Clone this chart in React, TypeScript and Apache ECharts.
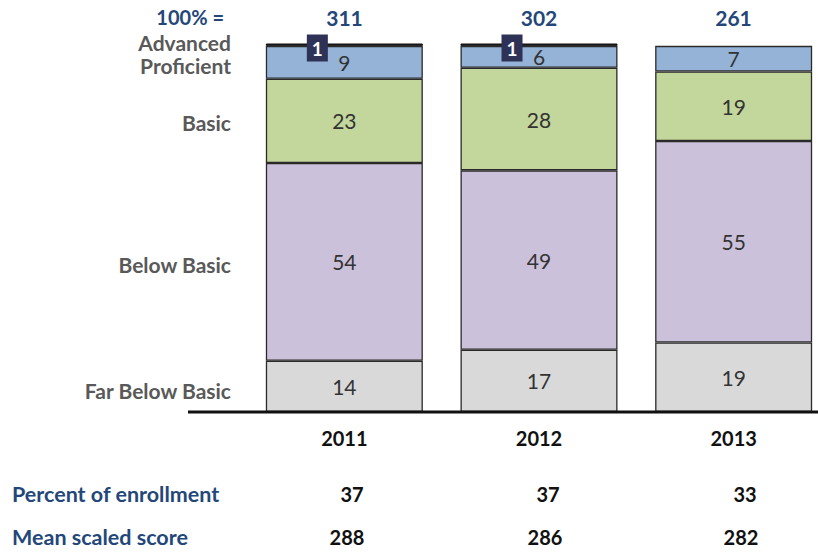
import React, { useEffect, useRef } from "react";
import * as echarts from "echarts";

const years = ["2011", "2012", "2013"];
const farBelowBasic = [14, 17, 19];
const belowBasic = [54, 49, 55];
const basic = [23, 28, 19];
const proficient = [9, 6, 7];
const advanced = [1, 1, null];
const totals = ["311", "302", "261"];
const percentEnrollment = ["37", "37", "33"];
const meanScaledScore = ["288", "286", "282"];
const levelLabels = ["Advanced", "Proficient", "Basic", "Below Basic", "Far Below Basic"];

const FONT = "Lato, 'Open Sans', sans-serif";
const BLUE = "#24477a";

export default function App() {
  const ref = useRef<HTMLDivElement>(null);
  useEffect(() => {
    if (!ref.current) return;
    const chart = echarts.init(ref.current, null, { renderer: "svg" });
    const seg = (name: string, data: any[], color: string) => ({
      name,
      type: "bar",
      stack: "total",
      data,
      barWidth: 157,
      itemStyle: { color, borderColor: "#2a2a2a", borderWidth: 1.3 },
      label: {
        show: true,
        position: "inside",
        color: "#333",
        fontFamily: FONT,
        fontSize: 21,
      },
    });
    const leftLabelY = [42, 65, 122, 264, 390];
    const valueX = [352, 548, 745];
    const meanX = [347, 545, 741];
    const barCenters = [344.5, 539, 733.5];
    const graphic: any[] = [];
    levelLabels.forEach((t, i) => {
      graphic.push({
        type: "text",
        x: 231,
        y: leftLabelY[i],
        style: {
          text: t,
          fill: "#595959",
          font: `bold 21px ${FONT}`,
          lineHeight: 21,
          align: "right",
          verticalAlign: "middle",
        },
      });
    });
    graphic.push({
      type: "text",
      x: 224,
      y: 17,
      style: { text: "100% =", fill: BLUE, font: `bold 20px ${FONT}`, align: "right", verticalAlign: "middle" },
    });
    totals.forEach((t, i) => {
      graphic.push({
        type: "text",
        x: barCenters[i],
        y: 17,
        style: { text: t, fill: BLUE, font: `bold 21px ${FONT}`, align: "center", verticalAlign: "middle" },
      });
    });
    graphic.push({
      type: "text",
      x: 12,
      y: 494,
      style: { text: "Percent of enrollment", fill: BLUE, font: `bold 21.5px ${FONT}`, align: "left", verticalAlign: "middle" },
    });
    graphic.push({
      type: "text",
      x: 12,
      y: 537,
      style: { text: "Mean scaled score", fill: BLUE, font: `bold 21.5px ${FONT}`, align: "left", verticalAlign: "middle" },
    });
    percentEnrollment.forEach((t, i) => {
      graphic.push({
        type: "text",
        x: valueX[i],
        y: 494,
        style: { text: t, fill: "#111", font: `bold 20px ${FONT}`, align: "center", verticalAlign: "middle" },
      });
    });
    meanScaledScore.forEach((t, i) => {
      graphic.push({
        type: "text",
        x: meanX[i],
        y: 537,
        style: { text: t, fill: "#111", font: `bold 20px ${FONT}`, align: "center", verticalAlign: "middle" },
      });
    });
    graphic.push({
      type: "line",
      z: 100,
      shape: { x1: 188, y1: 412, x2: 818, y2: 412 },
      style: { stroke: "#111", lineWidth: 3 },
    });

    chart.setOption({
      animation: false,
      grid: { left: 247, top: 44, width: 584, bottom: 140 },
      xAxis: {
        type: "category",
        data: years,
        axisLine: { show: false },
        axisTick: { show: false },
        axisLabel: {
          color: "#111",
          fontFamily: FONT,
          fontWeight: "bold",
          fontSize: 20,
          margin: 16,
        },
      },
      yAxis: {
        type: "value",
        min: 0,
        max: 100.5,
        show: false,
        splitLine: { show: false },
      },
      series: [
        seg("Far Below Basic", farBelowBasic, "#d9d9d9"),
        seg("Below Basic", belowBasic, "#ccc1da"),
        seg("Basic", basic, "#c3d69b"),
        seg("Proficient", proficient, "#95b3d7"),
        {
          name: "Advanced",
          type: "bar",
          stack: "total",
          data: advanced,
          barWidth: 157,
          itemStyle: { color: "#1e1e2a", borderColor: "#111", borderWidth: 1 },
          label: {
            show: true,
            position: [41, -9],
            align: "left",
            verticalAlign: "top",
            color: "#fff",
            fontFamily: FONT,
            fontWeight: "bold",
            fontSize: 19,
            lineHeight: 19,
            backgroundColor: "#2e3257",
            padding: [4, 5],
          },
        },
      ],
      graphic,
    });
    return () => chart.dispose();
  }, []);
  return (
    <div
      ref={ref}
      style={{ position: "fixed", left: 0, top: 0, width: 840, height: 552, background: "#fff" }}
    />
  );
}
